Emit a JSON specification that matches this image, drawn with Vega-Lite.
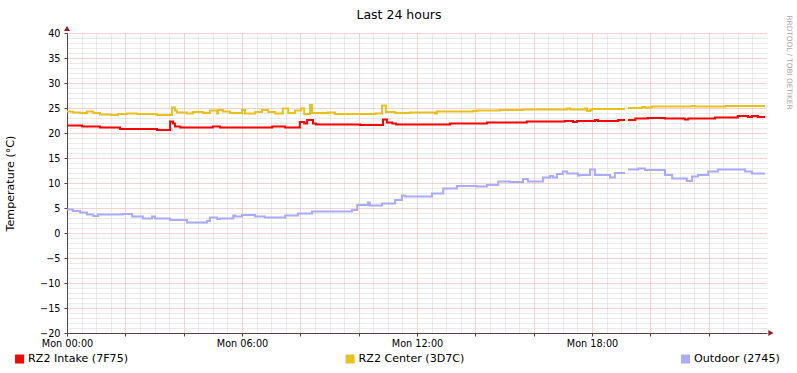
{
  "$schema": "https://vega.github.io/schema/vega-lite/v6.json",
  "width": 700,
  "height": 300,
  "autosize": {"type": "none"},
  "padding": {"left": 67, "top": 33, "right": 30, "bottom": 40},
  "background": "white",
  "config": {
    "font": "DejaVu Sans",
    "view": {"stroke": null},
    "axis": {"labelFont": "DejaVu Sans", "titleFont": "DejaVu Sans", "labelColor": "#000000"}
  },
  "data": {"values": [
    {"series": "RZ2 Intake (7F75)", "time": "2024-01-01T00:00", "value": 21.5},
    {"series": "RZ2 Intake (7F75)", "time": "2024-01-01T00:31", "value": 21.3},
    {"series": "RZ2 Intake (7F75)", "time": "2024-01-01T01:08", "value": 21.1},
    {"series": "RZ2 Intake (7F75)", "time": "2024-01-01T01:49", "value": 20.8},
    {"series": "RZ2 Intake (7F75)", "time": "2024-01-01T03:05", "value": 20.6},
    {"series": "RZ2 Intake (7F75)", "time": "2024-01-01T03:32", "value": 22.3},
    {"series": "RZ2 Intake (7F75)", "time": "2024-01-01T03:38", "value": 21.9},
    {"series": "RZ2 Intake (7F75)", "time": "2024-01-01T03:42", "value": 21.3},
    {"series": "RZ2 Intake (7F75)", "time": "2024-01-01T03:53", "value": 21.1},
    {"series": "RZ2 Intake (7F75)", "time": "2024-01-01T05:00", "value": 21.3},
    {"series": "RZ2 Intake (7F75)", "time": "2024-01-01T05:15", "value": 21.1},
    {"series": "RZ2 Intake (7F75)", "time": "2024-01-01T07:02", "value": 21.3},
    {"series": "RZ2 Intake (7F75)", "time": "2024-01-01T07:29", "value": 21.1},
    {"series": "RZ2 Intake (7F75)", "time": "2024-01-01T07:59", "value": 22.2},
    {"series": "RZ2 Intake (7F75)", "time": "2024-01-01T08:08", "value": 21.9},
    {"series": "RZ2 Intake (7F75)", "time": "2024-01-01T08:14", "value": 22.6},
    {"series": "RZ2 Intake (7F75)", "time": "2024-01-01T08:26", "value": 21.9},
    {"series": "RZ2 Intake (7F75)", "time": "2024-01-01T08:32", "value": 21.7},
    {"series": "RZ2 Intake (7F75)", "time": "2024-01-01T10:03", "value": 21.6},
    {"series": "RZ2 Intake (7F75)", "time": "2024-01-01T10:50", "value": 22.7},
    {"series": "RZ2 Intake (7F75)", "time": "2024-01-01T10:58", "value": 22.1},
    {"series": "RZ2 Intake (7F75)", "time": "2024-01-01T11:09", "value": 21.9},
    {"series": "RZ2 Intake (7F75)", "time": "2024-01-01T11:17", "value": 21.7},
    {"series": "RZ2 Intake (7F75)", "time": "2024-01-01T13:08", "value": 21.9},
    {"series": "RZ2 Intake (7F75)", "time": "2024-01-01T14:24", "value": 22.1},
    {"series": "RZ2 Intake (7F75)", "time": "2024-01-01T15:46", "value": 22.3},
    {"series": "RZ2 Intake (7F75)", "time": "2024-01-01T17:04", "value": 22.4},
    {"series": "RZ2 Intake (7F75)", "time": "2024-01-01T17:21", "value": 22.2},
    {"series": "RZ2 Intake (7F75)", "time": "2024-01-01T17:29", "value": 22.4},
    {"series": "RZ2 Intake (7F75)", "time": "2024-01-01T18:06", "value": 22.6},
    {"series": "RZ2 Intake (7F75)", "time": "2024-01-01T18:12", "value": 22.4},
    {"series": "RZ2 Intake (7F75)", "time": "2024-01-01T18:54", "value": 22.6},
    {"series": "RZ2 Intake (7F75)", "time": "2024-01-01T19:08", "value": 22.6},
    {"series": "RZ2 Intake (7F75)", "time": "2024-01-01T19:09", "value": null},
    {"series": "RZ2 Intake (7F75)", "time": "2024-01-01T19:14", "value": 22.6},
    {"series": "RZ2 Intake (7F75)", "time": "2024-01-01T19:29", "value": 22.9},
    {"series": "RZ2 Intake (7F75)", "time": "2024-01-01T19:55", "value": 23.0},
    {"series": "RZ2 Intake (7F75)", "time": "2024-01-01T20:30", "value": 22.9},
    {"series": "RZ2 Intake (7F75)", "time": "2024-01-01T21:11", "value": 22.7},
    {"series": "RZ2 Intake (7F75)", "time": "2024-01-01T21:18", "value": 22.9},
    {"series": "RZ2 Intake (7F75)", "time": "2024-01-01T22:13", "value": 23.1},
    {"series": "RZ2 Intake (7F75)", "time": "2024-01-01T23:00", "value": 23.4},
    {"series": "RZ2 Intake (7F75)", "time": "2024-01-01T23:21", "value": 23.2},
    {"series": "RZ2 Intake (7F75)", "time": "2024-01-01T23:29", "value": 23.4},
    {"series": "RZ2 Intake (7F75)", "time": "2024-01-01T23:41", "value": 23.2},
    {"series": "RZ2 Intake (7F75)", "time": "2024-01-01T23:56", "value": 23.2},
    {"series": "RZ2 Center (3D7C)", "time": "2024-01-01T00:00", "value": 24.3},
    {"series": "RZ2 Center (3D7C)", "time": "2024-01-01T00:12", "value": 24.1},
    {"series": "RZ2 Center (3D7C)", "time": "2024-01-01T00:27", "value": 24.0},
    {"series": "RZ2 Center (3D7C)", "time": "2024-01-01T00:41", "value": 24.3},
    {"series": "RZ2 Center (3D7C)", "time": "2024-01-01T00:54", "value": 24.0},
    {"series": "RZ2 Center (3D7C)", "time": "2024-01-01T01:08", "value": 23.7},
    {"series": "RZ2 Center (3D7C)", "time": "2024-01-01T01:30", "value": 23.6},
    {"series": "RZ2 Center (3D7C)", "time": "2024-01-01T01:45", "value": 23.8},
    {"series": "RZ2 Center (3D7C)", "time": "2024-01-01T02:03", "value": 23.9},
    {"series": "RZ2 Center (3D7C)", "time": "2024-01-01T02:24", "value": 23.8},
    {"series": "RZ2 Center (3D7C)", "time": "2024-01-01T03:05", "value": 23.6},
    {"series": "RZ2 Center (3D7C)", "time": "2024-01-01T03:36", "value": 25.1},
    {"series": "RZ2 Center (3D7C)", "time": "2024-01-01T03:42", "value": 24.5},
    {"series": "RZ2 Center (3D7C)", "time": "2024-01-01T03:46", "value": 24.1},
    {"series": "RZ2 Center (3D7C)", "time": "2024-01-01T04:07", "value": 23.9},
    {"series": "RZ2 Center (3D7C)", "time": "2024-01-01T04:19", "value": 24.2},
    {"series": "RZ2 Center (3D7C)", "time": "2024-01-01T04:40", "value": 24.0},
    {"series": "RZ2 Center (3D7C)", "time": "2024-01-01T04:54", "value": 24.5},
    {"series": "RZ2 Center (3D7C)", "time": "2024-01-01T05:09", "value": 23.9},
    {"series": "RZ2 Center (3D7C)", "time": "2024-01-01T05:11", "value": 24.6},
    {"series": "RZ2 Center (3D7C)", "time": "2024-01-01T05:21", "value": 24.3},
    {"series": "RZ2 Center (3D7C)", "time": "2024-01-01T05:35", "value": 24.0},
    {"series": "RZ2 Center (3D7C)", "time": "2024-01-01T06:00", "value": 24.6},
    {"series": "RZ2 Center (3D7C)", "time": "2024-01-01T06:06", "value": 23.9},
    {"series": "RZ2 Center (3D7C)", "time": "2024-01-01T06:27", "value": 24.2},
    {"series": "RZ2 Center (3D7C)", "time": "2024-01-01T06:41", "value": 24.6},
    {"series": "RZ2 Center (3D7C)", "time": "2024-01-01T06:54", "value": 24.2},
    {"series": "RZ2 Center (3D7C)", "time": "2024-01-01T07:08", "value": 23.9},
    {"series": "RZ2 Center (3D7C)", "time": "2024-01-01T07:24", "value": 24.9},
    {"series": "RZ2 Center (3D7C)", "time": "2024-01-01T07:35", "value": 24.0},
    {"series": "RZ2 Center (3D7C)", "time": "2024-01-01T07:49", "value": 24.5},
    {"series": "RZ2 Center (3D7C)", "time": "2024-01-01T08:01", "value": 24.9},
    {"series": "RZ2 Center (3D7C)", "time": "2024-01-01T08:08", "value": 23.8},
    {"series": "RZ2 Center (3D7C)", "time": "2024-01-01T08:20", "value": 25.6},
    {"series": "RZ2 Center (3D7C)", "time": "2024-01-01T08:24", "value": 24.0},
    {"series": "RZ2 Center (3D7C)", "time": "2024-01-01T08:57", "value": 24.1},
    {"series": "RZ2 Center (3D7C)", "time": "2024-01-01T09:11", "value": 23.8},
    {"series": "RZ2 Center (3D7C)", "time": "2024-01-01T10:34", "value": 23.9},
    {"series": "RZ2 Center (3D7C)", "time": "2024-01-01T10:48", "value": 25.5},
    {"series": "RZ2 Center (3D7C)", "time": "2024-01-01T10:56", "value": 24.2},
    {"series": "RZ2 Center (3D7C)", "time": "2024-01-01T11:15", "value": 24.0},
    {"series": "RZ2 Center (3D7C)", "time": "2024-01-01T11:46", "value": 24.1},
    {"series": "RZ2 Center (3D7C)", "time": "2024-01-01T12:37", "value": 23.9},
    {"series": "RZ2 Center (3D7C)", "time": "2024-01-01T12:41", "value": 24.3},
    {"series": "RZ2 Center (3D7C)", "time": "2024-01-01T13:55", "value": 24.4},
    {"series": "RZ2 Center (3D7C)", "time": "2024-01-01T14:03", "value": 24.5},
    {"series": "RZ2 Center (3D7C)", "time": "2024-01-01T14:51", "value": 24.6},
    {"series": "RZ2 Center (3D7C)", "time": "2024-01-01T15:38", "value": 24.7},
    {"series": "RZ2 Center (3D7C)", "time": "2024-01-01T17:09", "value": 24.9},
    {"series": "RZ2 Center (3D7C)", "time": "2024-01-01T17:15", "value": 24.7},
    {"series": "RZ2 Center (3D7C)", "time": "2024-01-01T17:46", "value": 24.9},
    {"series": "RZ2 Center (3D7C)", "time": "2024-01-01T17:50", "value": 24.4},
    {"series": "RZ2 Center (3D7C)", "time": "2024-01-01T17:56", "value": 24.6},
    {"series": "RZ2 Center (3D7C)", "time": "2024-01-01T18:00", "value": 24.8},
    {"series": "RZ2 Center (3D7C)", "time": "2024-01-01T19:08", "value": 24.8},
    {"series": "RZ2 Center (3D7C)", "time": "2024-01-01T19:09", "value": null},
    {"series": "RZ2 Center (3D7C)", "time": "2024-01-01T19:14", "value": 25.0},
    {"series": "RZ2 Center (3D7C)", "time": "2024-01-01T19:43", "value": 25.2},
    {"series": "RZ2 Center (3D7C)", "time": "2024-01-01T19:49", "value": 25.1},
    {"series": "RZ2 Center (3D7C)", "time": "2024-01-01T20:03", "value": 25.3},
    {"series": "RZ2 Center (3D7C)", "time": "2024-01-01T21:26", "value": 25.4},
    {"series": "RZ2 Center (3D7C)", "time": "2024-01-01T21:32", "value": 25.3},
    {"series": "RZ2 Center (3D7C)", "time": "2024-01-01T22:34", "value": 25.4},
    {"series": "RZ2 Center (3D7C)", "time": "2024-01-01T23:56", "value": 25.4},
    {"series": "Outdoor (2745)", "time": "2024-01-01T00:00", "value": 4.7},
    {"series": "Outdoor (2745)", "time": "2024-01-01T00:12", "value": 4.4},
    {"series": "Outdoor (2745)", "time": "2024-01-01T00:27", "value": 4.1},
    {"series": "Outdoor (2745)", "time": "2024-01-01T00:41", "value": 3.7},
    {"series": "Outdoor (2745)", "time": "2024-01-01T00:54", "value": 3.4},
    {"series": "Outdoor (2745)", "time": "2024-01-01T01:04", "value": 3.7},
    {"series": "Outdoor (2745)", "time": "2024-01-01T01:55", "value": 3.8},
    {"series": "Outdoor (2745)", "time": "2024-01-01T02:14", "value": 3.3},
    {"series": "Outdoor (2745)", "time": "2024-01-01T02:36", "value": 2.9},
    {"series": "Outdoor (2745)", "time": "2024-01-01T02:55", "value": 3.3},
    {"series": "Outdoor (2745)", "time": "2024-01-01T03:01", "value": 2.9},
    {"series": "Outdoor (2745)", "time": "2024-01-01T03:32", "value": 2.6},
    {"series": "Outdoor (2745)", "time": "2024-01-01T04:07", "value": 2.1},
    {"series": "Outdoor (2745)", "time": "2024-01-01T04:48", "value": 2.4},
    {"series": "Outdoor (2745)", "time": "2024-01-01T04:54", "value": 3.1},
    {"series": "Outdoor (2745)", "time": "2024-01-01T05:09", "value": 2.8},
    {"series": "Outdoor (2745)", "time": "2024-01-01T05:15", "value": 2.9},
    {"series": "Outdoor (2745)", "time": "2024-01-01T05:42", "value": 3.5},
    {"series": "Outdoor (2745)", "time": "2024-01-01T05:46", "value": 3.3},
    {"series": "Outdoor (2745)", "time": "2024-01-01T06:00", "value": 3.6},
    {"series": "Outdoor (2745)", "time": "2024-01-01T06:27", "value": 3.3},
    {"series": "Outdoor (2745)", "time": "2024-01-01T06:47", "value": 3.1},
    {"series": "Outdoor (2745)", "time": "2024-01-01T07:29", "value": 3.5},
    {"series": "Outdoor (2745)", "time": "2024-01-01T07:55", "value": 3.9},
    {"series": "Outdoor (2745)", "time": "2024-01-01T08:24", "value": 4.3},
    {"series": "Outdoor (2745)", "time": "2024-01-01T09:46", "value": 4.6},
    {"series": "Outdoor (2745)", "time": "2024-01-01T09:57", "value": 5.6},
    {"series": "Outdoor (2745)", "time": "2024-01-01T10:19", "value": 6.1},
    {"series": "Outdoor (2745)", "time": "2024-01-01T10:23", "value": 5.5},
    {"series": "Outdoor (2745)", "time": "2024-01-01T10:48", "value": 5.9},
    {"series": "Outdoor (2745)", "time": "2024-01-01T11:15", "value": 6.6},
    {"series": "Outdoor (2745)", "time": "2024-01-01T11:29", "value": 7.5},
    {"series": "Outdoor (2745)", "time": "2024-01-01T11:35", "value": 7.3},
    {"series": "Outdoor (2745)", "time": "2024-01-01T12:31", "value": 7.9},
    {"series": "Outdoor (2745)", "time": "2024-01-01T12:54", "value": 8.9},
    {"series": "Outdoor (2745)", "time": "2024-01-01T13:22", "value": 9.4},
    {"series": "Outdoor (2745)", "time": "2024-01-01T14:03", "value": 9.3},
    {"series": "Outdoor (2745)", "time": "2024-01-01T14:24", "value": 9.6},
    {"series": "Outdoor (2745)", "time": "2024-01-01T14:47", "value": 10.3},
    {"series": "Outdoor (2745)", "time": "2024-01-01T15:11", "value": 10.2},
    {"series": "Outdoor (2745)", "time": "2024-01-01T15:38", "value": 10.8},
    {"series": "Outdoor (2745)", "time": "2024-01-01T15:48", "value": 10.3},
    {"series": "Outdoor (2745)", "time": "2024-01-01T16:19", "value": 11.1},
    {"series": "Outdoor (2745)", "time": "2024-01-01T16:34", "value": 11.4},
    {"series": "Outdoor (2745)", "time": "2024-01-01T16:40", "value": 11.1},
    {"series": "Outdoor (2745)", "time": "2024-01-01T16:48", "value": 11.8},
    {"series": "Outdoor (2745)", "time": "2024-01-01T17:00", "value": 12.3},
    {"series": "Outdoor (2745)", "time": "2024-01-01T17:09", "value": 11.9},
    {"series": "Outdoor (2745)", "time": "2024-01-01T17:31", "value": 11.5},
    {"series": "Outdoor (2745)", "time": "2024-01-01T17:35", "value": 11.6},
    {"series": "Outdoor (2745)", "time": "2024-01-01T17:56", "value": 12.7},
    {"series": "Outdoor (2745)", "time": "2024-01-01T18:06", "value": 11.6},
    {"series": "Outdoor (2745)", "time": "2024-01-01T18:37", "value": 11.1},
    {"series": "Outdoor (2745)", "time": "2024-01-01T18:47", "value": 12.0},
    {"series": "Outdoor (2745)", "time": "2024-01-01T19:08", "value": 12.0},
    {"series": "Outdoor (2745)", "time": "2024-01-01T19:09", "value": null},
    {"series": "Outdoor (2745)", "time": "2024-01-01T19:14", "value": 12.7},
    {"series": "Outdoor (2745)", "time": "2024-01-01T19:35", "value": 12.9},
    {"series": "Outdoor (2745)", "time": "2024-01-01T19:49", "value": 12.6},
    {"series": "Outdoor (2745)", "time": "2024-01-01T20:30", "value": 11.6},
    {"series": "Outdoor (2745)", "time": "2024-01-01T20:45", "value": 10.9},
    {"series": "Outdoor (2745)", "time": "2024-01-01T21:15", "value": 10.4},
    {"series": "Outdoor (2745)", "time": "2024-01-01T21:26", "value": 11.3},
    {"series": "Outdoor (2745)", "time": "2024-01-01T21:38", "value": 11.6},
    {"series": "Outdoor (2745)", "time": "2024-01-01T21:59", "value": 12.3},
    {"series": "Outdoor (2745)", "time": "2024-01-01T22:19", "value": 12.7},
    {"series": "Outdoor (2745)", "time": "2024-01-01T23:15", "value": 12.3},
    {"series": "Outdoor (2745)", "time": "2024-01-01T23:29", "value": 11.9},
    {"series": "Outdoor (2745)", "time": "2024-01-01T23:56", "value": 11.9}
  ]},
  "layer": [
    {
      "mark": {"type": "line", "opacity": 0},
      "encoding": {
        "x": {
          "field": "time", "type": "temporal",
          "scale": {"domain": ["2024-01-01T00:00", "2024-01-02T00:00"]},
          "axis": {"orient": "top", "labels": false, "ticks": false, "domain": false, "grid": true, "gridColor": "#d6d6d6", "gridDash": [1, 1], "gridWidth": 1,
            "values": [
              {"year": 2024, "month": 1, "date": 1, "hours": 0, "minutes": 30},
              {"year": 2024, "month": 1, "date": 1, "hours": 1, "minutes": 0},
              {"year": 2024, "month": 1, "date": 1, "hours": 1, "minutes": 30},
              {"year": 2024, "month": 1, "date": 1, "hours": 2, "minutes": 30},
              {"year": 2024, "month": 1, "date": 1, "hours": 3, "minutes": 0},
              {"year": 2024, "month": 1, "date": 1, "hours": 3, "minutes": 30},
              {"year": 2024, "month": 1, "date": 1, "hours": 4, "minutes": 30},
              {"year": 2024, "month": 1, "date": 1, "hours": 5, "minutes": 0},
              {"year": 2024, "month": 1, "date": 1, "hours": 5, "minutes": 30},
              {"year": 2024, "month": 1, "date": 1, "hours": 6, "minutes": 30},
              {"year": 2024, "month": 1, "date": 1, "hours": 7, "minutes": 0},
              {"year": 2024, "month": 1, "date": 1, "hours": 7, "minutes": 30},
              {"year": 2024, "month": 1, "date": 1, "hours": 8, "minutes": 30},
              {"year": 2024, "month": 1, "date": 1, "hours": 9, "minutes": 0},
              {"year": 2024, "month": 1, "date": 1, "hours": 9, "minutes": 30},
              {"year": 2024, "month": 1, "date": 1, "hours": 10, "minutes": 30},
              {"year": 2024, "month": 1, "date": 1, "hours": 11, "minutes": 0},
              {"year": 2024, "month": 1, "date": 1, "hours": 11, "minutes": 30},
              {"year": 2024, "month": 1, "date": 1, "hours": 12, "minutes": 30},
              {"year": 2024, "month": 1, "date": 1, "hours": 13, "minutes": 0},
              {"year": 2024, "month": 1, "date": 1, "hours": 13, "minutes": 30},
              {"year": 2024, "month": 1, "date": 1, "hours": 14, "minutes": 30},
              {"year": 2024, "month": 1, "date": 1, "hours": 15, "minutes": 0},
              {"year": 2024, "month": 1, "date": 1, "hours": 15, "minutes": 30},
              {"year": 2024, "month": 1, "date": 1, "hours": 16, "minutes": 30},
              {"year": 2024, "month": 1, "date": 1, "hours": 17, "minutes": 0},
              {"year": 2024, "month": 1, "date": 1, "hours": 17, "minutes": 30},
              {"year": 2024, "month": 1, "date": 1, "hours": 18, "minutes": 30},
              {"year": 2024, "month": 1, "date": 1, "hours": 19, "minutes": 0},
              {"year": 2024, "month": 1, "date": 1, "hours": 19, "minutes": 30},
              {"year": 2024, "month": 1, "date": 1, "hours": 20, "minutes": 30},
              {"year": 2024, "month": 1, "date": 1, "hours": 21, "minutes": 0},
              {"year": 2024, "month": 1, "date": 1, "hours": 21, "minutes": 30},
              {"year": 2024, "month": 1, "date": 1, "hours": 22, "minutes": 30},
              {"year": 2024, "month": 1, "date": 1, "hours": 23, "minutes": 0},
              {"year": 2024, "month": 1, "date": 1, "hours": 23, "minutes": 30}
            ],
            "title": "Last 24 hours", "titleFontSize": 12.5, "titleFontWeight": "normal", "titleColor": "#000000", "titleAlign": "center", "titleBaseline": "alphabetic", "titleAngle": 0, "titleX": 331.5, "titleY": -15}
        },
        "y": {
          "field": "value", "type": "quantitative",
          "scale": {"domain": [-20, 40], "nice": false, "zero": false},
          "axis": {"orient": "right", "labels": false, "ticks": false, "domain": false, "grid": true, "gridColor": "#d6d6d6", "gridDash": [1, 1], "gridWidth": 1,
            "values": [-19,-18,-17,-16,-14,-13,-12,-11,-9,-8,-7,-6,-4,-3,-2,-1,1,2,3,4,6,7,8,9,11,12,13,14,16,17,18,19,21,22,23,24,26,27,28,29,31,32,33,34,36,37,38,39],
            "title": "RRDTOOL / TOBI OETIKER", "titleFontSize": 7.3, "titleFontWeight": "normal", "titleColor": "#aaaaaa", "titleAngle": 90, "titleAlign": "left", "titleBaseline": "middle", "titleX": 21, "titleY": -18}
        },
        "detail": {"field": "series", "type": "nominal"}
      }
    },
    {
      "mark": {"type": "line", "interpolate": "step-after", "strokeWidth": 2},
      "encoding": {
        "x": {
          "field": "time", "type": "temporal",
          "axis": {"orient": "bottom", "title": null, "grid": true, "gridColor": "#e8a6a6", "gridDash": [1, 1], "gridWidth": 1,
            "values": [
              {"year": 2024, "month": 1, "date": 1, "hours": 0},
              {"year": 2024, "month": 1, "date": 1, "hours": 2},
              {"year": 2024, "month": 1, "date": 1, "hours": 4},
              {"year": 2024, "month": 1, "date": 1, "hours": 6},
              {"year": 2024, "month": 1, "date": 1, "hours": 8},
              {"year": 2024, "month": 1, "date": 1, "hours": 10},
              {"year": 2024, "month": 1, "date": 1, "hours": 12},
              {"year": 2024, "month": 1, "date": 1, "hours": 14},
              {"year": 2024, "month": 1, "date": 1, "hours": 16},
              {"year": 2024, "month": 1, "date": 1, "hours": 18},
              {"year": 2024, "month": 1, "date": 1, "hours": 20},
              {"year": 2024, "month": 1, "date": 1, "hours": 22}
            ],
            "labelExpr": "hours(datum.value) % 6 == 0 ? timeFormat(datum.value, '%a %H:%M') : ''",
            "labelFontSize": 9.7, "labelColor": "#000000", "labelPadding": 2, "tickSize": 3, "tickColor": "#5f4040", "domainColor": "#5f4040", "labelFlush": false, "labelOverlap": false}
        },
        "y": {
          "field": "value", "type": "quantitative",
          "axis": {"orient": "left", "grid": true, "gridColor": "#e8a6a6", "gridDash": [1, 1], "gridWidth": 1,
            "values": [-20, -15, -10, -5, 0, 5, 10, 15, 20, 25, 30, 35, 40],
            "labelFontSize": 9.7, "labelColor": "#000000", "labelPadding": 4, "tickSize": 3, "tickColor": "#5f4040", "domainColor": "#5f4040",
            "title": "Temperature (°C)", "titleFontSize": 11.1, "titleFontWeight": "normal", "titleColor": "#000000", "titleAngle": 270, "titleAlign": "center", "titleBaseline": "middle", "titleX": -57, "titleY": 150}
        },
        "color": {
          "field": "series", "type": "nominal",
          "scale": {"domain": ["RZ2 Intake (7F75)", "RZ2 Center (3D7C)", "Outdoor (2745)"], "range": ["#ff0000", "#e8c11e", "#aaaaff"]},
          "legend": {"orient": "none", "legendX": -53, "legendY": 320, "direction": "horizontal", "columns": 3, "columnPadding": 204.5, "padding": 0, "title": null,
            "symbolType": "square", "symbolSize": 1, "symbolStrokeWidth": 8, "symbolFillColor": "transparent",
            "labelFontSize": 11.1, "labelColor": "#000000", "labelOffset": 3, "labelFont": "DejaVu Sans"}
        }
      }
    },
    {
      "data": {"values": [{}]},
      "mark": {"type": "point", "shape": "triangle-up", "filled": true, "color": "#9b1c1c", "size": 36, "opacity": 1, "clip": false},
      "encoding": {
        "x": {"datum": {"year": 2024, "month": 1, "date": 1, "hours": 0}, "type": "temporal", "axis": null},
        "y": {"datum": 40.9, "type": "quantitative", "axis": null}
      }
    },
    {
      "data": {"values": [{}]},
      "mark": {"type": "point", "shape": "triangle-right", "filled": true, "color": "#9b1c1c", "size": 36, "opacity": 1, "clip": false},
      "encoding": {
        "x": {"datum": {"year": 2024, "month": 1, "date": 2, "hours": 0, "minutes": 8}, "type": "temporal", "axis": null},
        "y": {"datum": -20, "type": "quantitative", "axis": null}
      }
    }
  ],
  "resolve": {"axis": {"x": "independent", "y": "independent"}}
}
